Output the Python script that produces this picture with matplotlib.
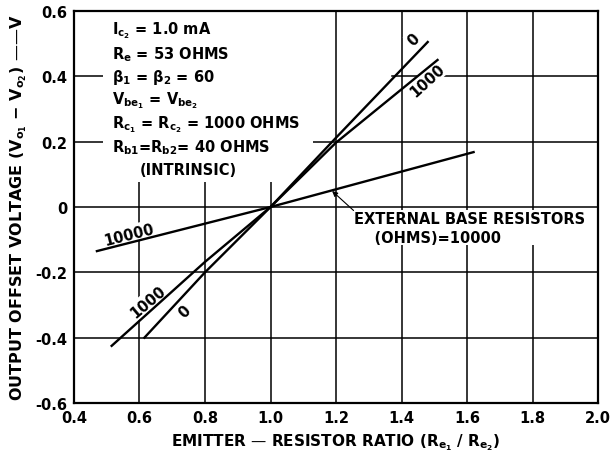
import matplotlib
matplotlib.use("Agg")
import matplotlib.pyplot as plt
from matplotlib.patches import Rectangle

plt.rcParams['font.family'] = 'DejaVu Sans'
plt.rcParams['font.weight'] = 'bold'
plt.rcParams['axes.labelweight'] = 'bold'
plt.rcParams['mathtext.default'] = 'regular'

# emitter-resistor ratio vs output offset voltage, one curve per external base resistance
ratio_0 = [0.615, 0.8, 1.0, 1.2, 1.48]
offset_0 = [-0.40, -0.20, 0.0, 0.212, 0.505]
ratio_1000 = [0.515, 0.8, 1.0, 1.2, 1.51]
offset_1000 = [-0.425, -0.168, 0.0, 0.197, 0.45]
ratio_10000 = [0.47, 1.0, 1.62]
offset_10000 = [-0.135, 0.0, 0.168]

xticks = [0.4, 0.6, 0.8, 1.0, 1.2, 1.4, 1.6, 1.8, 2.0]
xtick_labels = ['0.4', '0.6', '0.8', '1.0', '1.2', '1.4', '1.6', '1.8', '2.0']
yticks = [-0.6, -0.4, -0.2, 0.0, 0.2, 0.4, 0.6]
ytick_labels = ['-0.6', '-0.4', '-0.2', '0', '0.2', '0.4', '0.6']

conditions = [
    r'$I_{c_2}$ = 1.0 mA',
    r'$R_e$ = 53 OHMS',
    r'$\beta_1$ = $\beta_2$ = 60',
    r'$V_{be_1}$ = $V_{be_2}$',
    r'$R_{c_1}$ = $R_{c_2}$ = 1000 OHMS',
    r'$R_{b1}$=$R_{b2}$= 40 OHMS',
]

fs = 10.5
fig = plt.figure(figsize=(6.14, 4.6), dpi=100)
ax = fig.add_axes([0.1205, 0.1217, 0.8535, 0.8523])

ax.set_xlim(0.4, 2.0)
ax.set_ylim(-0.6, 0.6)
ax.set_xticks(xticks)
ax.set_xticklabels(xtick_labels)
ax.set_yticks(yticks)
ax.set_yticklabels(ytick_labels)
ax.tick_params(length=0, labelsize=fs, pad=5)
ax.set_axisbelow(True)
ax.grid(True, axis='x', color='black', lw=1.1)
for s in ax.spines.values():
    s.set_linewidth(1.6)

# horizontal rules, the 0.4 one broken where the upper labels sit
grid_kw = dict(color='black', lw=1.1, zorder=0.5)
for yv in yticks[1:-1]:
    if yv == 0.4:
        ax.axhline(yv, xmax=(0.49 - 0.4) / 1.6, **grid_kw)
        ax.axhline(yv, xmin=(1.37 - 0.4) / 1.6, **grid_kw)
    else:
        ax.axhline(yv, **grid_kw)

# blank area behind the conditions list
ax.add_patch(Rectangle((0.49, 0.075), 0.64, 0.53, facecolor='white',
                       edgecolor='none', zorder=1))

ax.plot(ratio_0, offset_0, color='black', lw=1.7, zorder=4)
ax.plot(ratio_1000, offset_1000, color='black', lw=1.7, zorder=4)
ax.plot(ratio_10000, offset_10000, color='black', lw=1.7, zorder=4)

box = dict(facecolor='white', edgecolor='none', pad=1.0)
lab = dict(fontsize=fs, ha='center', va='center', zorder=3, bbox=box)
ax.text(1.437, 0.514, '0', rotation=45, **lab)
ax.text(1.478, 0.389, '1000', rotation=42, **lab)
ax.text(0.625, -0.288, '1000', rotation=40, **lab)
ax.text(0.737, -0.318, '0', rotation=45, **lab)
ax.text(0.568, -0.083, '10000', rotation=14, **lab)

y = 0.542
for line in conditions:
    ax.text(0.516, y, line, fontsize=fs, ha='left', va='center', zorder=3)
    y -= 0.0715
ax.text(0.6, 0.116, '(INTRINSIC)', fontsize=fs, ha='left', va='center', zorder=3)

ax.annotate('EXTERNAL BASE RESISTORS\n    (OHMS)=10000',
            xy=(1.188, 0.049), xytext=(1.255, -0.012),
            fontsize=fs, ha='left', va='top', linespacing=1.3, zorder=3,
            bbox=dict(facecolor='white', edgecolor='none', pad=0.3),
            arrowprops=dict(arrowstyle='-|>', color='black', lw=0.8,
                            mutation_scale=8, shrinkA=0, shrinkB=0,
                            relpos=(0, 1)))

ax.set_xlabel('EMITTER \u2014 RESISTOR RATIO ($R_{e_1}$ / $R_{e_2}$)', fontsize=11, labelpad=5)
ax.set_ylabel('OUTPUT OFFSET VOLTAGE ($V_{o_1}$ $-$ $V_{o_2}$) \u2014\u2014V', fontsize=11.5, labelpad=4)

fig.savefig('out.png', dpi=100)
